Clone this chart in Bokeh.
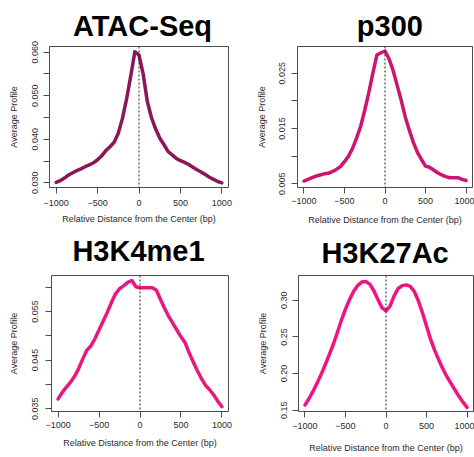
from bokeh.plotting import figure
from bokeh.models import Range1d, FixedTicker, PrintfTickFormatter, Span, Title
from bokeh.layouts import column, row
from bokeh.embed import file_html
from bokeh.resources import INLINE

# ---------------- data ----------------
positions = [-1000, -950, -900, -850, -800, -750, -700, -650, -600, -550,
             -500, -450, -400, -350, -300, -250, -200, -150, -100, -50,
             0, 50, 100, 150, 200, 250, 300, 350, 400, 450,
             500, 550, 600, 650, 700, 750, 800, 850, 900, 950, 1000]

atac_seq = [0.0301, 0.0305, 0.0311, 0.0318, 0.0323, 0.0328, 0.0332, 0.0337, 0.0341, 0.0346,
            0.0353, 0.0362, 0.0374, 0.0383, 0.0393, 0.0414, 0.0448, 0.0492, 0.0545, 0.0601,
            0.0593, 0.0550, 0.0487, 0.0450, 0.0424, 0.0403, 0.0388, 0.0372, 0.0364, 0.0356,
            0.0351, 0.0347, 0.0342, 0.0336, 0.0330, 0.0325, 0.0319, 0.0313, 0.0308, 0.0303, 0.0300]

p300 = [0.0055, 0.0058, 0.0061, 0.0064, 0.0066, 0.0068, 0.0069, 0.0072, 0.0076, 0.0081,
        0.0090, 0.0100, 0.0114, 0.0133, 0.0154, 0.0183, 0.0215, 0.0250, 0.0283, 0.0287,
        0.0290, 0.0276, 0.0255, 0.0228, 0.0201, 0.0171, 0.0147, 0.0125, 0.0107, 0.0094,
        0.0082, 0.0080, 0.0075, 0.0070, 0.0066, 0.0063, 0.0061, 0.0061, 0.0061, 0.0058, 0.0056]

h3k4me1 = [0.0370, 0.0383, 0.0394, 0.0404, 0.0416, 0.0432, 0.0452, 0.0470, 0.0479, 0.0494,
           0.0512, 0.0530, 0.0548, 0.0568, 0.0586, 0.0597, 0.0603, 0.0610, 0.0614, 0.0601,
           0.0599, 0.0599, 0.0599, 0.0599, 0.0594, 0.0575, 0.0557, 0.0540, 0.0526, 0.0512,
           0.0498, 0.0486, 0.0465, 0.0446, 0.0428, 0.0412, 0.0398, 0.0389, 0.0378, 0.0365, 0.0354]

h3k27ac = [0.157, 0.166, 0.176, 0.187, 0.199, 0.212, 0.226, 0.240, 0.256, 0.273,
           0.288, 0.301, 0.312, 0.320, 0.325, 0.3255, 0.322, 0.313, 0.301, 0.290,
           0.2855, 0.292, 0.306, 0.316, 0.320, 0.321, 0.319, 0.312, 0.299, 0.283,
           0.265, 0.247, 0.232, 0.219, 0.207, 0.196, 0.187, 0.178, 0.169, 0.161, 0.154]

titles = ["ATAC-Seq", "p300", "H3K4me1", "H3K27Ac"]
x_ticks = [-1000, -500, 0, 500, 1000]
x_tick_labels = ["\u22121000", "\u2212500", "0", "500", "1000"]

atac_major = [0.030, 0.040, 0.050, 0.060]
atac_minor = [0.035, 0.045, 0.055]
p300_major = [0.005, 0.015, 0.025]
p300_minor = [0.010, 0.020]
h3k4me1_major = [0.035, 0.045, 0.055]
h3k4me1_minor = [0.040, 0.050, 0.060]
h3k27ac_major = [0.15, 0.20, 0.25, 0.30]
h3k27ac_minor = []

x_label = "Relative Distance from the Center (bp)"
y_label = "Average Profile"

FONT = "Liberation Sans"
TXT = "#2b2b2b"
LN = "#4d4d4d"


def make_panel(title, ys, color, major, minor, yfmt, yr, w, h, bl, br, bt, bb,
               t_off, t_gap, xs, ys_off, xls, yls):
    p = figure(width=w, height=h, x_range=Range1d(-1080, 1080),
               y_range=Range1d(*yr), output_backend="svg",
               toolbar_location=None,
               min_border_left=bl, min_border_right=br,
               min_border_top=bt, min_border_bottom=bb)
    p.background_fill_color = "white"
    p.border_fill_color = "white"
    p.outline_line_color = LN
    p.outline_line_width = 1
    p.xgrid.visible = False
    p.ygrid.visible = False

    xa = p.xaxis[0]
    xa.ticker = FixedTicker(ticks=x_ticks)
    xa.major_label_overrides = {t: l for t, l in zip(x_ticks, x_tick_labels)}
    ya = p.yaxis[0]
    ya.ticker = FixedTicker(ticks=major, minor_ticks=minor)
    ya.formatter = PrintfTickFormatter(format=yfmt)
    ya.major_label_orientation = "vertical"
    for ax in (xa, ya):
        ax.axis_line_color = None
        ax.major_tick_line_color = LN
        ax.minor_tick_line_color = LN
        ax.major_tick_out = 6
        ax.major_tick_in = 0
        ax.minor_tick_out = 6
        ax.minor_tick_in = 0
        ax.major_label_text_font = FONT
        ax.major_label_text_font_size = "9px"
        ax.major_label_text_color = TXT
        ax.axis_label_text_font = FONT
        ax.axis_label_text_font_size = "9px"
        ax.axis_label_text_font_style = "normal"
        ax.axis_label_text_color = TXT
    xa.minor_tick_line_color = None
    xa.major_label_standoff = xs
    ya.major_label_standoff = ys_off
    xa.axis_label = x_label
    xa.axis_label_standoff = xls
    ya.axis_label = y_label
    ya.axis_label_standoff = yls

    p.add_layout(Span(location=0, dimension="height", line_color="#222222",
                      line_dash="2 2", line_width=1))
    p.line(positions, ys, line_color=color, line_width=3.5,
           line_join="round", line_cap="round")

    # spacer (nearest the frame) then the big panel title
    p.add_layout(Title(text=" ", text_font_size="1px", standoff=t_gap), "above")
    p.add_layout(Title(text=title, align="left", offset=t_off, standoff=0,
                       vertical_align="bottom", text_font=FONT,
                       text_font_style="bold", text_font_size="29px",
                       text_color="black"), "above")
    return p


p1 = make_panel(titles[0], atac_seq, "#8c1657", atac_major, atac_minor, "%.3f",
                (0.02893, 0.06130), 237, 228, 49, 9, 46, 40, 23.5, 1.8,
                6, 5, 5, 11)
p2 = make_panel(titles[1], p300, "#cd1473", p300_major, p300_minor, "%.3f",
                (0.00433, 0.02983), 237, 228, 60, 2, 46, 41, 59.3, 1.8,
                4, 6, 8, 10)
p3 = make_panel(titles[2], h3k4me1, "#e6197d", h3k4me1_major, h3k4me1_minor, "%.3f",
                (0.03441, 0.06243), 237, 229, 51, 9, 47, 40, 20.9, 6.1,
                4, 7, 7, 11)
p4 = make_panel(titles[3], h3k27ac, "#f01482", h3k27ac_major, h3k27ac_minor, "%.2f",
                (0.14828, 0.33379), 237, 229, 61, 1, 43, 46, 22.9, 3.5,
                5, 5, 11, 11)

layout = column(row(p1, p2), row(p3, p4))
open("out.html", "w").write(file_html(layout, INLINE))
